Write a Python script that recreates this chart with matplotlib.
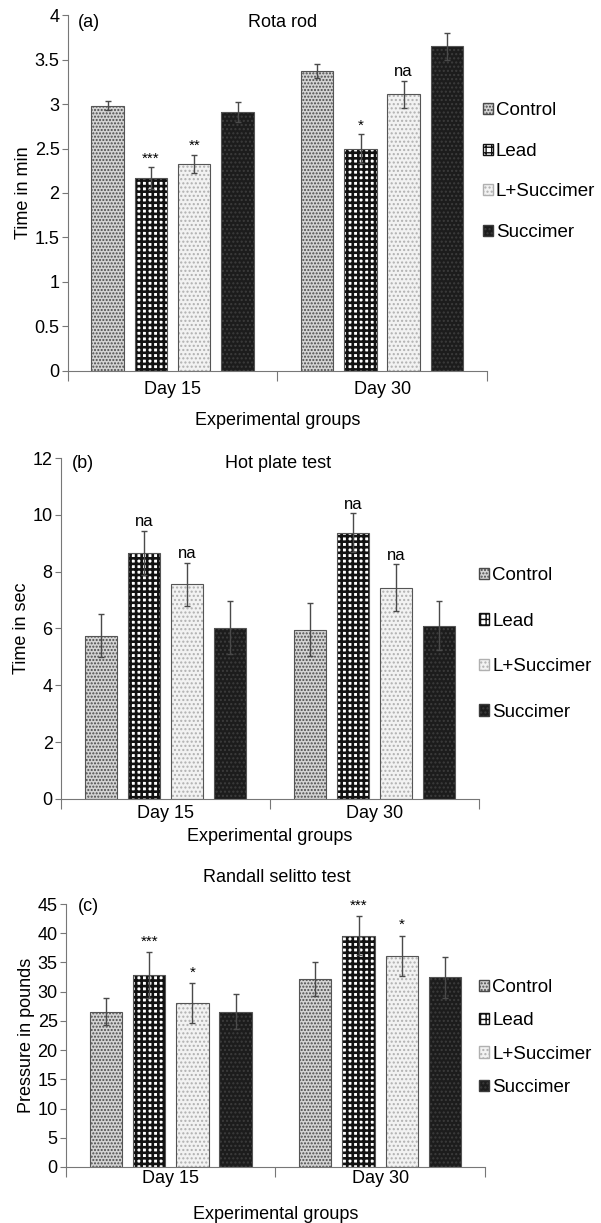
import matplotlib
matplotlib.use('Agg')
import matplotlib.pyplot as plt
from matplotlib.patches import Patch
import numpy as np

plt.rcParams['font.family'] = ['Liberation Sans', 'DejaVu Sans']
plt.rcParams['hatch.linewidth'] = 1.0

# data
groups = ['Day 15', 'Day 30']
treatments = ['Control', 'Lead', 'L+Succimer', 'Succimer']

rota_mean = {'Control': [2.98, 3.37], 'Lead': [2.17, 2.50], 'L+Succimer': [2.33, 3.11], 'Succimer': [2.91, 3.65]}
rota_err = {'Control': [0.05, 0.08], 'Lead': [0.12, 0.16], 'L+Succimer': [0.10, 0.15], 'Succimer': [0.11, 0.15]}
rota_sig = {'Lead': ['***', '*'], 'L+Succimer': ['**', 'na']}

hot_mean = {'Control': [5.75, 5.96], 'Lead': [8.66, 9.37], 'L+Succimer': [7.55, 7.43], 'Succimer': [6.03, 6.10]}
hot_err = {'Control': [0.77, 0.94], 'Lead': [0.78, 0.68], 'L+Succimer': [0.76, 0.83], 'Succimer': [0.93, 0.86]}
hot_sig = {'Lead': ['na', 'na'], 'L+Succimer': ['na', 'na']}

rs_mean = {'Control': [26.6, 32.2], 'Lead': [32.9, 39.6], 'L+Succimer': [28.1, 36.1], 'Succimer': [26.6, 32.5]}
rs_err = {'Control': [2.3, 2.9], 'Lead': [3.9, 3.3], 'L+Succimer': [3.4, 3.5], 'Succimer': [3.0, 3.5]}
rs_sig = {'Lead': ['***', '***'], 'L+Succimer': ['*', '*']}

# bar look: (face, hatch, hatch colour, hatch width)
styles = {
    'Control': ('#d4d4d4', '.....', '#4a4a4a', 1.0),
    'Lead': ('#ffffff', '+++', '#111111', 1.9),
    'L+Succimer': ('#f2f2f2', '....', '#b0b0b0', 1.0),
    'Succimer': ('#1c1c1c', '....', '#3c3c3c', 1.0),
}
offsets = [-0.31, -0.103, 0.103, 0.31]
width = 0.155
x = np.arange(len(groups))

fig = plt.figure(figsize=(6.01, 12.23), dpi=100)


def panel(rect, mean, err, sig, ymax, ystep, ylabel, title, tag, title_xy, tag_xy,
          leg_xy, leg_space, sig_pad, day_pad, xlab_pad):
    ax = fig.add_axes(rect)
    for i, t in enumerate(treatments):
        face, hatch, hcol, hlw = styles[t]
        pos = x + offsets[i]
        with plt.rc_context({'hatch.linewidth': hlw}):
            ax.bar(pos, mean[t], width, color=face, hatch=hatch, edgecolor=hcol, linewidth=0)
        ax.bar(pos, mean[t], width, fill=False, edgecolor='#555555', linewidth=0.8)
        ax.errorbar(pos, mean[t], yerr=err[t], fmt='none', ecolor='#4a4a4a', elinewidth=1, capsize=2.5)
        if t in sig:
            for j, s in enumerate(sig[t]):
                ax.text(pos[j], mean[t][j] + err[t][j] + sig_pad, s, ha='center', va='bottom',
                        fontsize=12 if s == 'na' else 11)
    ax.set_xlim(-0.5, 1.5)
    ax.set_ylim(0, ymax)
    ticks = np.arange(0, ymax + ystep / 2, ystep)
    ax.set_yticks(ticks)
    ax.set_yticklabels(['%g' % v for v in ticks])
    ax.set_xticks([-0.5, 0.5, 1.5])
    ax.set_xticklabels([])
    ax.set_xticks(x, minor=True)
    ax.set_xticklabels(groups, minor=True)
    ax.tick_params(axis='x', which='major', length=7, color='#777777')
    ax.tick_params(axis='x', which='minor', length=0, pad=day_pad, labelsize=13)
    ax.tick_params(axis='y', length=4, color='#777777', labelsize=13, pad=2)
    for s in ['top', 'right']:
        ax.spines[s].set_visible(False)
    for s in ['left', 'bottom']:
        ax.spines[s].set_color('#777777')
    ax.set_ylabel(ylabel, fontsize=13, labelpad=2)
    ax.set_xlabel('Experimental groups', fontsize=13, labelpad=xlab_pad)
    ax.text(title_xy[0], title_xy[1], title, transform=ax.transAxes, ha='center', va='center', fontsize=13)
    ax.text(tag_xy[0], tag_xy[1], tag, transform=ax.transAxes, ha='left', va='center', fontsize=13)
    handles = []
    for t in treatments:
        with plt.rc_context({'hatch.linewidth': min(styles[t][3], 1.2)}):
            handles.append(Patch(facecolor=styles[t][0], hatch=styles[t][1], edgecolor=styles[t][2]))
    ax.legend(handles, treatments, loc='center left', bbox_to_anchor=leg_xy, frameon=False,
              fontsize=13.5, handlelength=0.55, handleheight=0.55, handletextpad=0.15,
              borderpad=0, borderaxespad=0, labelspacing=leg_space)
    return ax


panel([0.113, 0.6967, 0.697, 0.291], rota_mean, rota_err, rota_sig, 4, 0.5,
      'Time in min', 'Rota rod', '(a)', (0.513, 0.978), (0.024, 0.978),
      (0.99, 0.56), 1.25, 0.02, 7, 10)
panel([0.1015, 0.3467, 0.6955, 0.2788], hot_mean, hot_err, hot_sig, 12, 2,
      'Time in sec', 'Hot plate test', '(b)', (0.52, 0.985), (0.026, 0.985),
      (1.0, 0.455), 1.52, 0.05, 4, 5)
panel([0.1098, 0.0458, 0.697, 0.215], rs_mean, rs_err, rs_sig, 45, 5,
      'Pressure in pounds', 'Randall selitto test', '(c)', (0.503, 1.10), (0.029, 0.99),
      (0.986, 0.492), 0.87, 0.6, 2, 14)

fig.savefig('out.png', dpi=100)
